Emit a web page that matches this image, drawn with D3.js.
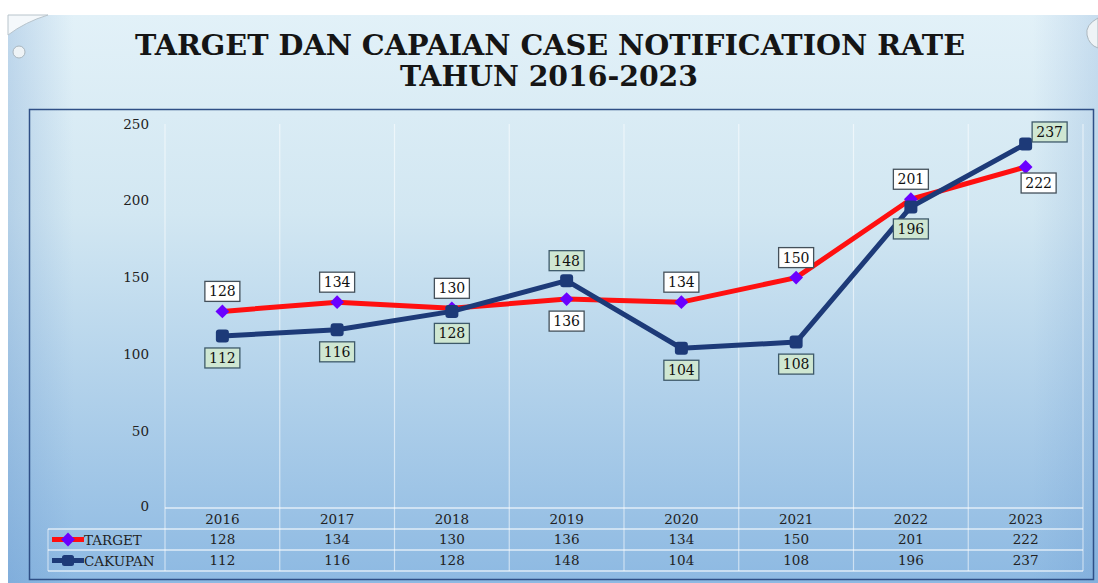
<!DOCTYPE html>
<html><head><meta charset="utf-8">
<script src="https://cdn.jsdelivr.net/npm/d3@7"></script>
<style>html,body{margin:0;padding:0;background:#fff;}svg{display:block;}</style>
</head><body>
<svg id="c" width="1098" height="583"></svg>
<script>
const years = ["2016","2017","2018","2019","2020","2021","2022","2023"];
const target = [128,134,130,136,134,150,201,222];
const cakupan = [112,116,128,148,104,108,196,237];
const yTicks = [0,50,100,150,200,250];
const titleLines = ["TARGET DAN CAPAIAN CASE NOTIFICATION RATE","TAHUN 2016-2023"];
const seriesNames = ["TARGET","CAKUPAN"];
// label placement: "a" above, "b" below, "r" right
const targetPos = ["a","a","a","b","a","a","a","br"];
const cakupanPos = ["b","b","b","a","b","b","b","r"];

const svg = d3.select("#c");
const defs = svg.append("defs");
const g1 = defs.append("linearGradient").attr("id","bg").attr("x1",0).attr("y1",0).attr("x2",0).attr("y2",1);
g1.append("stop").attr("offset","0%").attr("stop-color","#e2f1f8");
g1.append("stop").attr("offset","35%").attr("stop-color","#d2e7f2");
g1.append("stop").attr("offset","100%").attr("stop-color","#8db9e2");
const g2 = defs.append("linearGradient").attr("id","side").attr("x1",0).attr("y1",0).attr("x2",1).attr("y2",0);
g2.append("stop").attr("offset","0%").attr("stop-color","#5a8cc8").attr("stop-opacity",0.25);
g2.append("stop").attr("offset","6%").attr("stop-color","#5a8cc8").attr("stop-opacity",0);
g2.append("stop").attr("offset","94%").attr("stop-color","#5a8cc8").attr("stop-opacity",0);
g2.append("stop").attr("offset","100%").attr("stop-color","#5a8cc8").attr("stop-opacity",0.2);

svg.append("rect").attr("x",8).attr("y",15).attr("width",1090).attr("height",568).attr("fill","url(#bg)");
svg.append("rect").attr("x",8).attr("y",15).attr("width",1090).attr("height",568).attr("fill","url(#side)");
// decorative bubbles
svg.append("path").attr("d","M8,35 Q25,22 48,15 L8,15 Z").attr("fill","#f4f8fb").attr("stroke","#b8c4cc").attr("stroke-width",1);
svg.append("circle").attr("cx",19).attr("cy",52).attr("r",6).attr("fill","#eef3f6").attr("stroke","#aab6be");
svg.append("path").attr("d","M1098,18 Q1085,25 1087,35 Q1089,45 1098,48 Z").attr("fill","#eef3f6").attr("stroke","#aab6be");

// title
const title = svg.append("g").attr("font-family","'DejaVu Serif', 'Liberation Serif', serif").attr("font-weight","bold").attr("fill","#151515").attr("text-anchor","middle");
title.append("text").attr("x",550).attr("y",55).attr("font-size",27).attr("textLength",830).attr("lengthAdjust","spacingAndGlyphs").text(titleLines[0]);
title.append("text").attr("x",549).attr("y",86).attr("font-size",27).attr("textLength",298).attr("lengthAdjust","spacingAndGlyphs").text(titleLines[1]);

// chart frame
svg.append("rect").attr("x",29.5).attr("y",109.5).attr("width",1064).attr("height",470).attr("fill","none").attr("stroke","#2f4f86").attr("stroke-width",1.5);

const x = d3.scaleBand().domain(years).range([165,1083]);
const y = d3.scaleLinear().domain([0,250]).range([508,124]);
const cx = d => x(d) + x.bandwidth()/2;

const rowY = [508,529,550,571];
const gridCol = "rgba(255,255,255,0.55)";
// vertical gridlines
const bounds = years.map(d=>x(d)).concat([x.range()[1]]);
svg.append("g").selectAll("line").data(bounds).join("line")
  .attr("x1",d=>d).attr("x2",d=>d).attr("y1",124).attr("y2",rowY[3])
  .attr("stroke",gridCol).attr("stroke-width",1.2);
// table horizontal lines
svg.append("g").selectAll("line").data(rowY).join("line")
  .attr("x1",(d,i)=> i===0 ? 165 : 48).attr("x2",1083).attr("y1",d=>d).attr("y2",d=>d)
  .attr("stroke","rgba(255,255,255,0.7)").attr("stroke-width",1.5);
svg.append("line").attr("x1",48).attr("x2",48).attr("y1",rowY[1]).attr("y2",rowY[3]).attr("stroke","rgba(255,255,255,0.55)").attr("stroke-width",1.2);

const fontF = "'DejaVu Serif', 'Liberation Serif', serif";
// y axis labels
const yAxis = d3.axisLeft(y).tickValues(yTicks).tickSize(0).tickPadding(0);
const ya = svg.append("g").attr("transform","translate(149,0)").call(yAxis);
ya.select(".domain").remove();
ya.selectAll("text").attr("font-family",fontF).attr("font-size",13.5).attr("fill","#222").attr("dy","0.3em");
ya.selectAll(".tick").filter(d=>d===0).attr("transform",d=>`translate(0,${y(d)-1})`);

// x axis (year row)
const xAxis = d3.axisBottom(x).tickSize(0).tickPadding(0);
const xa = svg.append("g").attr("transform",`translate(0,${rowY[0]})`).call(xAxis);
xa.select(".domain").remove();
xa.selectAll("text").attr("font-family",fontF).attr("font-size",13.5).attr("fill","#222").attr("dy","0").attr("y",16);

// table values
[target,cakupan].forEach((arr,si)=>{
  svg.append("g").selectAll("text").data(arr).join("text")
    .attr("x",(d,i)=>cx(years[i])).attr("y",rowY[si+1]+15)
    .attr("text-anchor","middle").attr("font-family",fontF).attr("font-size",13.5).attr("fill","#222")
    .text(d=>d);
});

const colT = "#ff1010", colC = "#1d3a78", colMk = "#6a00ff";
const diamond = d3.symbol(d3.symbolSquare, 95)();
// legend keys
const lg = svg.append("g");
[[colT,"diamond"],[colC,"square"]].forEach(([c,s],i)=>{
  const yy = rowY[i+1]+10.5;
  lg.append("line").attr("x1",52).attr("x2",84).attr("y1",yy).attr("y2",yy).attr("stroke",c).attr("stroke-width",5);
  if(s==="diamond") lg.append("path").attr("d",diamond).attr("transform",`translate(68,${yy}) rotate(45)`).attr("fill",colMk);
  else lg.append("rect").attr("x",62).attr("y",yy-5.5).attr("width",12).attr("height",11).attr("rx",2.5).attr("fill",c);
  lg.append("text").attr("x",84).attr("y",yy+5).attr("font-family",fontF).attr("font-size",13.5).attr("fill","#222").text(seriesNames[i]);
});

// lines
const line = d3.line().x((d,i)=>cx(years[i])).y(d=>y(d));
svg.append("path").datum(target).attr("d",line).attr("fill","none").attr("stroke",colT).attr("stroke-width",5).attr("stroke-linejoin","round");
svg.append("path").datum(cakupan).attr("d",line).attr("fill","none").attr("stroke",colC).attr("stroke-width",5).attr("stroke-linejoin","round");
// markers
svg.append("g").selectAll("path").data(target).join("path")
  .attr("d",diamond)
  .attr("transform",(d,i)=>`translate(${cx(years[i])},${y(d)}) rotate(45)`).attr("fill",colMk);
svg.append("g").selectAll("rect").data(cakupan).join("rect")
  .attr("x",(d,i)=>cx(years[i])-6.5).attr("y",d=>y(d)-6.5).attr("width",13).attr("height",13).attr("rx",3)
  .attr("fill",colC);

// data labels
function labels(arr,pos,fill,stroke){
  const g = svg.append("g");
  arr.forEach((v,i)=>{
    let lx = cx(years[i]), ly = y(v);
    const p = pos[i];
    if(p==="a") ly -= 20;
    else if(p==="b") ly += 22;
    else if(p==="br"){ lx += 13; ly += 16; }
    else if(p==="r"){ lx += 24; ly -= 12; }
    const w = 35, h = 20;
    g.append("rect").attr("x",lx-w/2).attr("y",ly-h/2).attr("width",w).attr("height",h)
      .attr("fill",fill).attr("stroke",stroke).attr("stroke-width",1.3);
    g.append("text").attr("x",lx).attr("y",ly+5).attr("text-anchor","middle")
      .attr("font-family",fontF).attr("font-size",14).attr("fill","#111").text(v);
  });
}
labels(target,targetPos,"#ffffff","#44505a");
labels(cakupan,cakupanPos,"#cfe7d2","#3e5a6a");
</script>
</body></html>
